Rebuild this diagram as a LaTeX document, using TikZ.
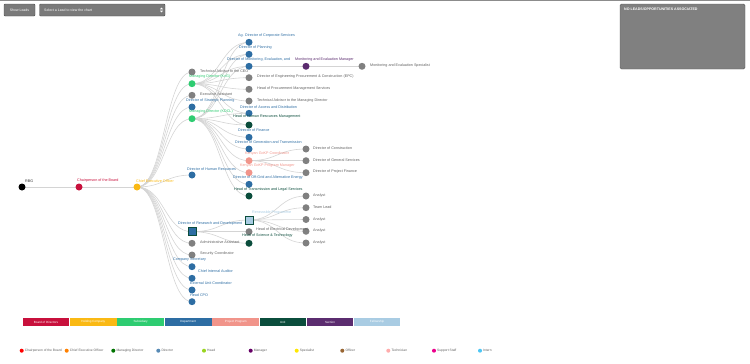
\documentclass[tikz,border=0pt]{standalone}
\usepackage{fontspec}
\setmainfont{Liberation Sans}
\usetikzlibrary{positioning,backgrounds}
\definecolor{board}{RGB}{200,16,60}
\definecolor{hold}{RGB}{250,185,20}
\definecolor{subs}{RGB}{46,204,113}
\definecolor{dept}{RGB}{45,109,163}
\definecolor{proj}{RGB}{241,148,138}
\definecolor{unit}{RGB}{11,77,60}
\definecolor{sect}{RGB}{91,44,111}
\definecolor{fell}{RGB}{169,204,227}
\definecolor{grey}{RGB}{128,128,128}
\definecolor{txtgrey}{RGB}{95,95,95}
\tikzset{
  orgnode/.style={circle,inner sep=0pt,minimum size=7pt},
  orgsq/.style={rectangle,inner sep=0pt,minimum size=8pt,draw=unit,line width=0.9pt},
  orglabel/.style={font=\fontsize{3.7}{4.4}\selectfont,anchor=west,inner sep=0pt},
  link/.style={draw=black!17,line width=0.6pt},
  barlabel/.style={font=\fontsize{3}{3.6}\selectfont,text=white,inner sep=0pt},
  keylabel/.style={font=\fontsize{3.3}{4}\selectfont,text=txtgrey,anchor=west,inner sep=0pt},
  keydot/.style={circle,inner sep=0pt,minimum size=4pt}
}
\begin{document}
\begin{tikzpicture}[x=1pt,y=-1pt]
\useasboundingbox (0,0) rectangle (750,364);
\fill[black!45] (0,0) rectangle (750,1.4);

% header
\draw[fill=black!52,draw=black!70,rounded corners=1pt] (4,4) rectangle (35,16);
\node[font=\fontsize{3.5}{4}\selectfont,text=white,inner sep=0pt] (showleads) at (19.5,10) {Show Leads};
\draw[fill=black!52,draw=black!70,rounded corners=1pt] (39.5,4) rectangle (165,16);
\node[font=\fontsize{3.5}{4}\selectfont,text=white,inner sep=0pt,anchor=west] (selectlead) at (44,10) {Select a Lead to view the chart};
\fill[white] (160,9.3) -- (161.5,7.6) -- (163,9.3) -- cycle;
\fill[white] (160,10.7) -- (161.5,12.4) -- (163,10.7) -- cycle;
\draw[fill=black!50,draw=black!65,rounded corners=1.5pt] (620,4) rectangle (745,69);
\node[font=\bfseries\fontsize{3.6}{4}\selectfont,text=white,inner sep=0pt,anchor=west] (noleads) at (624,9.5) {NO LEADS/OPPORTUNITIES ASSOCIATED};

% levels 0 to 2
\node[orgnode,fill=black] (rbg) at (22,187) {};
\node[orgnode,fill=board] (chair) at (79,187) {};
\node[orgnode,fill=hold] (ceo) at (137,187) {};

% level 3
\node[orgnode,fill=grey] (tacea) at (192,72) {};
\node[orgnode,fill=subs] (mdkvg) at (192,83.7) {};
\node[orgnode,fill=grey] (exasst) at (192,95.3) {};
\node[orgnode,fill=dept] (dsp) at (192,107) {};
\node[orgnode,fill=subs] (mdkdcl) at (192,118.7) {};
\node[orgnode,fill=dept] (dhr) at (192,175) {};
\node[orgsq,fill=dept] (drd) at (192,231.7) {};
\node[orgnode,fill=grey] (adasst) at (192,243.3) {};
\node[orgnode,fill=grey] (secco) at (192,255) {};
\node[orgnode,fill=dept] (cosec) at (192,266.7) {};
\node[orgnode,fill=dept] (cia) at (192,278.3) {};
\node[orgnode,fill=dept] (euc) at (192,290) {};
\node[orgnode,fill=dept] (hcpo) at (192,301.7) {};

% level 4
\node[orgnode,fill=dept] (dcs) at (249,42.3) {};
\node[orgnode,fill=dept] (dpl) at (249,54.3) {};
\node[orgnode,fill=dept] (dme) at (249,66.3) {};
\node[orgnode,fill=grey] (depc) at (249,77.7) {};
\node[orgnode,fill=grey] (hpms) at (249,89.3) {};
\node[orgnode,fill=grey] (tamd) at (249,101) {};
\node[orgnode,fill=dept] (dad) at (249,113.3) {};
\node[orgnode,fill=unit] (hhrm) at (249,125) {};
\node[orgnode,fill=dept] (dfin) at (249,137.3) {};
\node[orgnode,fill=dept] (dgt) at (249,149) {};
\node[orgnode,fill=proj] (gcoord) at (249,160.7) {};
\node[orgnode,fill=proj] (gpm) at (249,172.7) {};
\node[orgnode,fill=dept] (doge) at (249,184.3) {};
\node[orgnode,fill=unit] (htls) at (249,196) {};
\node[orgsq,fill=fell] (rprog) at (249,220) {};
\node[orgnode,fill=grey] (hed) at (249,231.7) {};
\node[orgnode,fill=unit] (hst) at (249,243.3) {};

% level 5 and 6
\node[orgnode,fill=sect] (mem) at (306,66.3) {};
\node[orgnode,fill=grey] (mes) at (362,66.3) {};
\node[orgnode,fill=grey] (dcon) at (306,149) {};
\node[orgnode,fill=grey] (dgs) at (306,160.7) {};
\node[orgnode,fill=grey] (dpf) at (306,172.7) {};
\node[orgnode,fill=grey] (an1) at (306,196) {};
\node[orgnode,fill=grey] (tl) at (306,207.7) {};
\node[orgnode,fill=grey] (an2) at (306,219.5) {};
\node[orgnode,fill=grey] (an3) at (306,231.3) {};
\node[orgnode,fill=grey] (an4) at (306,243) {};

% links
\begin{pgfonlayer}{background}
\path[link] (rbg.center) -- (chair.center);
\path[link] (chair.center) -- (ceo.center);
\path[link] (ceo.center) .. controls +(27.5,0) and +(-27.5,0) .. (tacea.center);
\path[link] (ceo.center) .. controls +(27.5,0) and +(-27.5,0) .. (mdkvg.center);
\path[link] (ceo.center) .. controls +(27.5,0) and +(-27.5,0) .. (exasst.center);
\path[link] (ceo.center) .. controls +(27.5,0) and +(-27.5,0) .. (dsp.center);
\path[link] (ceo.center) .. controls +(27.5,0) and +(-27.5,0) .. (mdkdcl.center);
\path[link] (ceo.center) .. controls +(27.5,0) and +(-27.5,0) .. (dhr.center);
\path[link] (ceo.center) .. controls +(27.5,0) and +(-27.5,0) .. (drd.center);
\path[link] (ceo.center) .. controls +(27.5,0) and +(-27.5,0) .. (adasst.center);
\path[link] (ceo.center) .. controls +(27.5,0) and +(-27.5,0) .. (secco.center);
\path[link] (ceo.center) .. controls +(27.5,0) and +(-27.5,0) .. (cosec.center);
\path[link] (ceo.center) .. controls +(27.5,0) and +(-27.5,0) .. (cia.center);
\path[link] (ceo.center) .. controls +(27.5,0) and +(-27.5,0) .. (euc.center);
\path[link] (ceo.center) .. controls +(27.5,0) and +(-27.5,0) .. (hcpo.center);
\path[link] (mdkvg.center) .. controls +(28.5,0) and +(-28.5,0) .. (dcs.center);
\path[link] (mdkvg.center) .. controls +(28.5,0) and +(-28.5,0) .. (dpl.center);
\path[link] (mdkvg.center) .. controls +(28.5,0) and +(-28.5,0) .. (dme.center);
\path[link] (mdkvg.center) .. controls +(28.5,0) and +(-28.5,0) .. (depc.center);
\path[link] (mdkvg.center) .. controls +(28.5,0) and +(-28.5,0) .. (hpms.center);
\path[link] (mdkvg.center) .. controls +(28.5,0) and +(-28.5,0) .. (tamd.center);
\path[link] (mdkvg.center) .. controls +(28.5,0) and +(-28.5,0) .. (dad.center);
\path[link] (mdkvg.center) .. controls +(28.5,0) and +(-28.5,0) .. (hhrm.center);
\path[link] (mdkdcl.center) .. controls +(28.5,0) and +(-28.5,0) .. (dcs.center);
\path[link] (mdkdcl.center) .. controls +(28.5,0) and +(-28.5,0) .. (dpl.center);
\path[link] (mdkdcl.center) .. controls +(28.5,0) and +(-28.5,0) .. (dme.center);
\path[link] (mdkdcl.center) .. controls +(28.5,0) and +(-28.5,0) .. (dad.center);
\path[link] (mdkdcl.center) .. controls +(28.5,0) and +(-28.5,0) .. (hhrm.center);
\path[link] (mdkdcl.center) .. controls +(28.5,0) and +(-28.5,0) .. (dfin.center);
\path[link] (mdkdcl.center) .. controls +(28.5,0) and +(-28.5,0) .. (dgt.center);
\path[link] (mdkdcl.center) .. controls +(28.5,0) and +(-28.5,0) .. (gcoord.center);
\path[link] (mdkdcl.center) .. controls +(28.5,0) and +(-28.5,0) .. (gpm.center);
\path[link] (mdkdcl.center) .. controls +(28.5,0) and +(-28.5,0) .. (doge.center);
\path[link] (mdkdcl.center) .. controls +(28.5,0) and +(-28.5,0) .. (htls.center);
\path[link] (drd.center) .. controls +(28.5,0) and +(-28.5,0) .. (rprog.center);
\path[link] (drd.center) -- (hed.center);
\path[link] (drd.center) .. controls +(28.5,0) and +(-28.5,0) .. (hst.center);
\path[link] (dme.center) -- (mem.center);
\path[link] (mem.center) -- (mes.center);
\path[link] (gcoord.center) .. controls +(28.5,0) and +(-28.5,0) .. (dcon.center);
\path[link] (gcoord.center) -- (dgs.center);
\path[link] (gcoord.center) .. controls +(28.5,0) and +(-28.5,0) .. (dpf.center);
\path[link] (rprog.center) .. controls +(28.5,0) and +(-28.5,0) .. (an1.center);
\path[link] (rprog.center) .. controls +(28.5,0) and +(-28.5,0) .. (tl.center);
\path[link] (rprog.center) -- (an2.center);
\path[link] (rprog.center) .. controls +(28.5,0) and +(-28.5,0) .. (an3.center);
\path[link] (rprog.center) .. controls +(28.5,0) and +(-28.5,0) .. (an4.center);
\end{pgfonlayer}

% labels
\node[orglabel,text=black!80] (lrbg) at (25,181) {RBG};
\node[orglabel,text=board] (lchair) at (77,181) {Chairperson of the Board};
\node[orglabel,text=hold] (lceo) at (136,181) {Chief Executive Officer};
\node[orglabel,text=txtgrey] (ltacea) at (200,71) {Technical Advisor to the CEO};
\node[orglabel,text=subs] (lmdkvg) at (189,76.5) {Managing Director (KvG)};
\node[orglabel,text=txtgrey] (lexasst) at (200,94) {Executive Assistant};
\node[orglabel,text=dept] (ldsp) at (186,100.5) {Director of Strategic Planning};
\node[orglabel,text=subs] (lmdkdcl) at (189,112) {Managing Director (KDCL)};
\node[orglabel,text=dept] (ldhr) at (187,169) {Director of Human Resources};
\node[orglabel,text=dept] (ldrd) at (178,224) {Director of Research and Development};
\node[orglabel,text=txtgrey] (ladasst) at (200,242.5) {Administrative Assistant};
\node[orglabel,text=txtgrey] (lsecco) at (200,254) {Security Coordinator};
\node[orglabel,text=dept] (lcosec) at (173,260) {Company Secretary};
\node[orglabel,text=dept] (lcia) at (198,271.5) {Chief Internal Auditor};
\node[orglabel,text=dept] (leuc) at (190,283) {External Unit Coordinator};
\node[orglabel,text=dept] (lhcpo) at (190,295) {Head CPO};
\node[orglabel,text=dept] (ldcs) at (238,36) {Ag. Director of Corporate Services};
\node[orglabel,text=dept] (ldpl) at (239,47.5) {Director of Planning};
\node[orglabel,text=dept] (ldme) at (227,59.5) {Director of Monitoring, Evaluation, and};
\node[orglabel,text=sect] (lmem) at (295,59.5) {Monitoring and Evaluation Manager};
\node[orglabel,text=txtgrey] (lmes) at (370,66) {Monitoring and Evaluation Specialist};
\node[orglabel,text=txtgrey] (ldepc) at (257,77) {Director of Engineering Procurement \& Construction (EPC)};
\node[orglabel,text=txtgrey] (lhpms) at (257,88.5) {Head of Procurement Management Services};
\node[orglabel,text=txtgrey] (ltamd) at (257,100.5) {Technical Advisor to the Managing Director};
\node[orglabel,text=dept] (ldad) at (240,107) {Director of Access and Distribution};
\node[orglabel,text=unit] (lhhrm) at (233,117) {Head of Human Resources Management};
\node[orglabel,text=dept] (ldfin) at (238,130.5) {Director of Finance};
\node[orglabel,text=dept] (ldgt) at (235,142.5) {Director of Generation and Transmission};
\node[orglabel,text=proj] (lgcoord) at (245,153.5) {Kenyan GoKP Coordinator};
\node[orglabel,text=proj] (lgpm) at (240,165.5) {Kenyan GoKP Program Manager};
\node[orglabel,text=dept] (ldoge) at (233,177.5) {Director of Off-Grid and Alternative Energy};
\node[orglabel,text=unit] (lhtls) at (234,189.5) {Head of Transmission and Legal Services};
\node[orglabel,text=fell] (lrprog) at (252,212.5) {Renewable Programme};
\node[orglabel,text=txtgrey] (lhed) at (256,230) {Head of Electrical Development};
\node[orglabel,text=unit] (lhst) at (242,236) {Head of Science \& Technology};
\node[orglabel,text=txtgrey] (ldcon) at (313,148) {Director of Construction};
\node[orglabel,text=txtgrey] (ldgs) at (313,160) {Director of General Services};
\node[orglabel,text=txtgrey] (ldpf) at (313,171.7) {Director of Project Finance};
\node[orglabel,text=txtgrey] (lan1) at (313,195.7) {Analyst};
\node[orglabel,text=txtgrey] (ltl) at (313,207.3) {Team Lead};
\node[orglabel,text=txtgrey] (lan2) at (313,219.3) {Analyst};
\node[orglabel,text=txtgrey] (lan3) at (313,230.7) {Analyst};
\node[orglabel,text=txtgrey] (lan4) at (313,242.7) {Analyst};

% colour bar
\fill[board] (22.7,318.3) rectangle (69.3,325.7);
\fill[hold] (70,318.3) rectangle (116.7,325.7);
\fill[subs] (117.3,318.3) rectangle (164,325.7);
\fill[dept] (164.7,318.3) rectangle (211.7,325.7);
\fill[proj] (212.3,318.3) rectangle (259,325.7);
\fill[unit] (259.7,318.3) rectangle (306,325.7);
\fill[sect] (306.7,318.3) rectangle (353.3,325.7);
\fill[fell] (354,318.3) rectangle (400,325.7);
\node[barlabel] (bboard) at (46,322) {Board of Directors};
\node[barlabel] (bhold) at (93.3,322) {Holding Company};
\node[barlabel] (bsubs) at (140.7,322) {Subsidiary};
\node[barlabel] (bdept) at (188.2,322) {Department};
\node[barlabel] (bproj) at (235.7,322) {Project Program};
\node[barlabel] (bunit) at (282.8,322) {Unit};
\node[barlabel] (bsect) at (330,322) {Section};
\node[barlabel] (bfell) at (377,322) {Fellowship};

% key
\node[keydot,fill=red] (kchair) at (21.7,350.7) {};
\node[keylabel,right=0.8pt of kchair] (lkchair) {Chairperson of the Board};
\node[keydot,fill=orange] (kceo) at (66.7,350.7) {};
\node[keylabel,right=0.8pt of kceo] (lkceo) {Chief Executive Officer};
\node[keydot,fill=green!45!black] (kmd) at (113.3,350.7) {};
\node[keylabel,right=0.8pt of kmd] (lkmd) {Managing Director};
\node[keydot,fill=dept!80] (kdir) at (158.3,350.7) {};
\node[keylabel,right=0.8pt of kdir] (lkdir) {Director};
\node[keydot,fill=yellow!60!green] (khead) at (204,350.7) {};
\node[keylabel,right=0.8pt of khead] (lkhead) {Head};
\node[keydot,fill=violet!80!black] (kman) at (250.7,350.7) {};
\node[keylabel,right=0.8pt of kman] (lkman) {Manager};
\node[keydot,fill=yellow!90!orange] (kspec) at (296.7,350.7) {};
\node[keylabel,right=0.8pt of kspec] (lkspec) {Specialist};
\node[keydot,fill=brown!80!black] (koff) at (342.3,350.7) {};
\node[keylabel,right=0.8pt of koff] (lkoff) {Officer};
\node[keydot,fill=pink!90!red] (ktech) at (388.3,350.7) {};
\node[keylabel,right=0.8pt of ktech] (lktech) {Technician};
\node[keydot,fill=magenta] (kss) at (434,350.7) {};
\node[keylabel,right=0.8pt of kss] (lkss) {Support Staff};
\node[keydot,fill=cyan!70] (kint) at (480,350.7) {};
\node[keylabel,right=0.8pt of kint] (lkint) {Intern};
\end{tikzpicture}
\end{document}
